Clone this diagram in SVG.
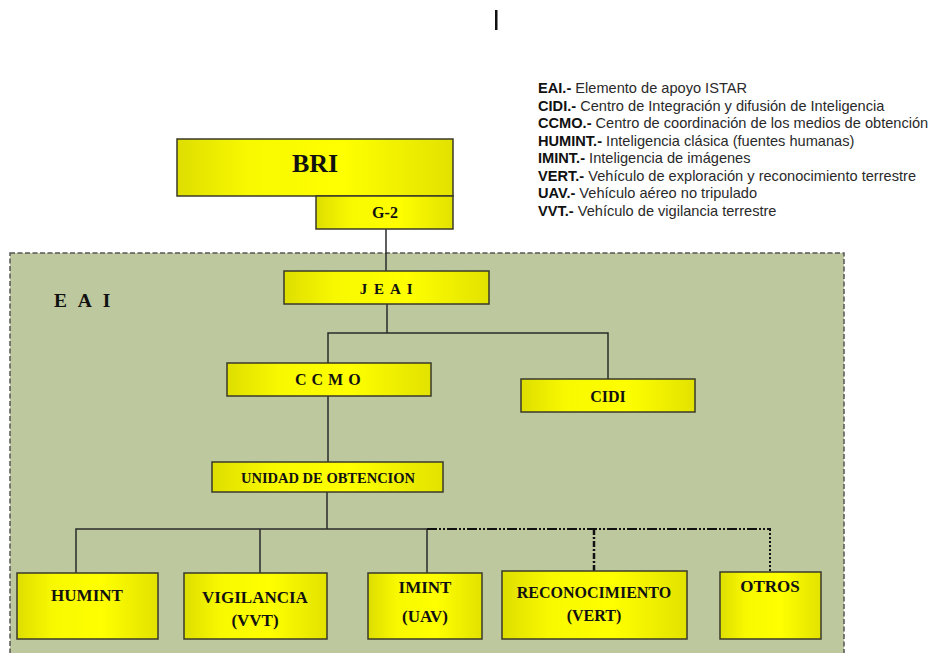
<svg xmlns="http://www.w3.org/2000/svg" width="932" height="653" viewBox="0 0 932 653">
<defs>
<linearGradient id="yg" x1="0" y1="0" x2="1" y2="0">
<stop offset="0" stop-color="#dede00"/>
<stop offset="0.25" stop-color="#f8f800"/>
<stop offset="0.6" stop-color="#ffff00"/>
<stop offset="1" stop-color="#e2e200"/>
</linearGradient>
<style>
.box{fill:url(#yg);stroke:#3a3a2a;stroke-width:1.5}
.t{font-family:"Liberation Serif","Times New Roman",serif;font-weight:bold;fill:#111;text-anchor:middle}
.c{fill:none;stroke:#2a2a2a;stroke-width:1.5}
.leg{font-family:"Liberation Sans",Arial,sans-serif;font-size:14.6px;fill:#2a2a2a}
.leg tspan.b{font-weight:bold;fill:#111}
</style>
</defs>
<rect width="932" height="653" fill="#ffffff"/>
<rect x="495" y="10" width="2.5" height="20" fill="#111"/>

<g id="legend" class="leg">
<text x="538" y="93"><tspan class="b">EAI.-</tspan> Elemento de apoyo ISTAR</text>
<text x="538" y="110.5"><tspan class="b">CIDI.-</tspan> Centro de Integración y difusión de Inteligencia</text>
<text x="538" y="128"><tspan class="b">CCMO.-</tspan> Centro de coordinación de los medios de obtención</text>
<text x="538" y="145.5"><tspan class="b">HUMINT.-</tspan> Inteligencia clásica (fuentes humanas)</text>
<text x="538" y="163"><tspan class="b">IMINT.-</tspan> Inteligencia de imágenes</text>
<text x="538" y="180.5"><tspan class="b">VERT.-</tspan> Vehículo de exploración y reconocimiento terrestre</text>
<text x="538" y="198"><tspan class="b">UAV.-</tspan> Vehículo aéreo no tripulado</text>
<text x="538" y="216"><tspan class="b">VVT.-</tspan> Vehículo de vigilancia terrestre</text>
</g>

<g id="EAI-area">
<rect x="10" y="253" width="834" height="420" fill="#bdc89e" stroke="#555" stroke-width="1.5" stroke-dasharray="5 2.5"/>
<text class="t" x="54" y="307" style="text-anchor:start;font-size:19.5px;letter-spacing:3.5px">E A I</text>
</g>

<g id="connectors">
<line class="c" x1="386" y1="229" x2="386" y2="271"/>
<line class="c" x1="387" y1="304" x2="387" y2="333"/>
<polyline class="c" points="328,363 328,333 608,333 608,379"/>
<line class="c" x1="328" y1="396" x2="328" y2="462"/>
<line class="c" x1="327" y1="492" x2="327" y2="529"/>
<polyline class="c" points="76,573 76,529 427,529"/>
<line class="c" x1="260" y1="529" x2="260" y2="573"/>
<line class="c" x1="427" y1="529" x2="427" y2="573"/>
<line x1="427" y1="529" x2="771" y2="529" stroke="#111" stroke-width="2" stroke-dasharray="10 2 2 2 2 2"/>
<line x1="594" y1="529" x2="594" y2="571" stroke="#111" stroke-width="2.5" stroke-dasharray="6 2 2 2"/>
<line x1="770" y1="529" x2="770" y2="572" stroke="#111" stroke-width="2" stroke-dasharray="2 2"/>
</g>

<g id="BRI">
<rect class="box" x="177" y="139" width="276" height="57"/>
<text class="t" x="315" y="172" style="font-size:26px">BRI</text>
</g>
<g id="G2">
<rect class="box" x="316" y="196" width="137" height="33"/>
<text class="t" x="385" y="218" style="font-size:16px">G-2</text>
</g>
<g id="JEAI">
<rect class="box" x="284" y="271" width="205" height="33"/>
<text class="t" x="387" y="294" style="font-size:15px;letter-spacing:1.5px">J E A I</text>
</g>
<g id="CCMO">
<rect class="box" x="227" y="363" width="204" height="33"/>
<text class="t" x="328" y="385" style="font-size:16px;letter-spacing:0.5px">C C M O</text>
</g>
<g id="CIDI">
<rect class="box" x="521" y="379" width="174" height="33"/>
<text class="t" x="608" y="402" style="font-size:16px">CIDI</text>
</g>
<g id="UNIDAD">
<rect class="box" x="212" y="462" width="231" height="30"/>
<text class="t" x="328" y="483" style="font-size:14.5px">UNIDAD DE OBTENCION</text>
</g>
<g id="HUMINT">
<rect class="box" x="17" y="573" width="141" height="66"/>
<text class="t" x="87" y="601" style="font-size:17px">HUMINT</text>
</g>
<g id="VIGILANCIA">
<rect class="box" x="184" y="573" width="143" height="66"/>
<text class="t" x="255" y="603" style="font-size:17px">VIGILANCIA</text>
<text class="t" x="255" y="626" style="font-size:17px">(VVT)</text>
</g>
<g id="IMINT">
<rect class="box" x="368" y="573" width="114" height="66"/>
<text class="t" x="425" y="593" style="font-size:17px">IMINT</text>
<text class="t" x="425" y="622" style="font-size:17px">(UAV)</text>
</g>
<g id="RECONOCIMIENTO">
<rect class="box" x="502" y="571" width="185" height="68"/>
<text class="t" x="594" y="598" style="font-size:16px">RECONOCIMIENTO</text>
<text class="t" x="594" y="621" style="font-size:16px">(VERT)</text>
</g>
<g id="OTROS">
<rect class="box" x="720" y="572" width="101" height="67"/>
<text class="t" x="770" y="592" style="font-size:17px">OTROS</text>
</g>
</svg>
